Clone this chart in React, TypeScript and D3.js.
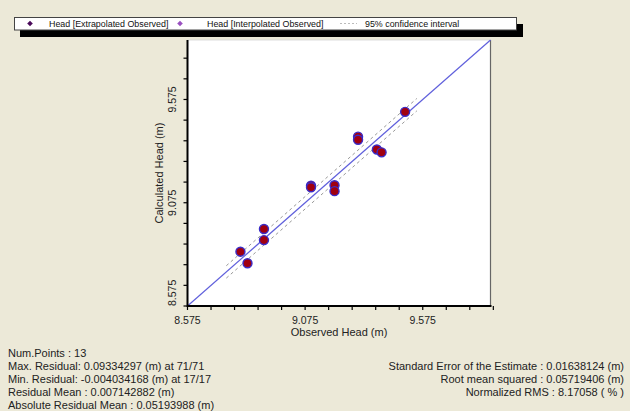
import React from "react";
import * as d3 from "d3";

const observed = [8.8, 8.83, 8.9, 8.9, 9.1, 9.1, 9.2, 9.2, 9.3, 9.3, 9.38, 9.4, 9.5];
const calculated = [8.838, 8.782, 8.948, 8.894, 9.158, 9.15, 9.16, 9.131, 9.395, 9.38, 9.333, 9.319, 9.515];
const axisMin = 8.575;
const axisMax = 9.863;
const tickStep = 0.1;
const labeledTicks = [8.575, 9.075, 9.575];
const ciRange = [8.74, 9.55];
const ciHalfWidth = 0.03;
const legendItems = ["Head [Extrapolated Observed]", "Head [Interpolated Observed]", "95% confidence interval"];
const statsLeft = [
  "Num.Points : 13",
  "Max. Residual: 0.09334297 (m) at 71/71",
  "Min. Residual: -0.004034168 (m) at 17/17",
  "Residual Mean : 0.007142882 (m)",
  "Absolute Residual Mean : 0.05193988 (m)",
];
const statsRight = [
  "Standard Error of the Estimate : 0.01638124 (m)",
  "Root mean squared : 0.05719406 (m)",
  "Normalized RMS : 8.17058 ( % )",
];

const W = 630;
const H = 411;
const L = 187.5, R = 490.5, T = 40, B = 306;
const FONT = "Arial, 'Liberation Sans', sans-serif";

export default function App() {
  const x = d3.scaleLinear().domain([axisMin, axisMax]).range([L, R]);
  const y = d3.scaleLinear().domain([axisMin, axisMax]).range([B, T]);
  const xTicks = d3.range(0, 14).map((i) => axisMin + i * tickStep);
  const yTicks = d3.range(0, 13).map((i) => axisMin + i * tickStep);
  const line = d3.line<[number, number]>().x((d) => x(d[0])).y((d) => y(d[1]));
  const upper = line(ciRange.map((v) => [v, v + ciHalfWidth] as [number, number]));
  const lower = line(ciRange.map((v) => [v, v - ciHalfWidth] as [number, number]));
  const diag = line([[axisMin, axisMin], [axisMax, axisMax]]);
  const isLabeled = (v: number) => labeledTicks.some((l) => Math.abs(l - v) < 1e-6);

  const diamond = (cx: number, cy: number, s: number) =>
    `M${cx},${cy - s}L${cx + s},${cy}L${cx},${cy + s}L${cx - s},${cy}Z`;

  return (
    <div style={{ position: "absolute", left: 0, top: 0 }}>
      <svg width={W} height={H} style={{ display: "block", fontFamily: FONT }}>
        <rect x={0} y={0} width={W} height={H} fill="#ECE9D8" />
        {/* legend */}
        <rect x={20} y={24} width={503} height={13} fill="#000" />
        <rect x={14.5} y={17.5} width={502} height={12.5} fill="#fff" stroke="#444" strokeWidth={1} />
        <path d={diamond(30, 23.5, 2.8)} fill="#4a0a5a" />
        <text x={49} y={27} fontSize={8.9} fill="#111">{legendItems[0]}</text>
        <path d={diamond(180, 23.5, 2.8)} fill="#9a50c0" />
        <text x={207} y={27} fontSize={8.9} fill="#111">{legendItems[1]}</text>
        <line x1={340} x2={357} y1={23.5} y2={23.5} stroke="#bbb" strokeDasharray="2,2" />
        <text x={365} y={27} fontSize={8.9} fill="#111">{legendItems[2]}</text>

        {/* plot area */}
        <rect x={L} y={T} width={R - L} height={B - T} fill="#fff" />
        <line x1={L} x2={R} y1={T} y2={T} stroke="#ddd" strokeWidth={1} />
        <line x1={R} x2={R} y1={T} y2={B} stroke="#666" strokeWidth={1.2} />
        <path d={upper ?? ""} fill="none" stroke="#999" strokeWidth={1} strokeDasharray="3,3" />
        <path d={lower ?? ""} fill="none" stroke="#999" strokeWidth={1} strokeDasharray="3,3" />
        <path d={diag ?? ""} fill="none" stroke="#6060dc" strokeWidth={1.2} />
        {observed.map((o, i) => (
          <circle key={i} cx={x(o)} cy={y(calculated[i])} r={4.5} fill="#a00010" stroke="#3a2cc8" strokeWidth={1.4} />
        ))}

        {/* axes */}
        <line x1={L} x2={R + 1} y1={B} y2={B} stroke="#000" strokeWidth={2} />
        <line x1={L} x2={L} y1={T} y2={B + 1} stroke="#000" strokeWidth={2} />
        {xTicks.map((v, i) => (
          <line key={i} x1={x(v)} x2={x(v)} y1={B} y2={B + 4} stroke="#000" strokeWidth={1.2} />
        ))}
        {yTicks.map((v, i) => (
          <line key={i} x1={L - 4} x2={L} y1={y(v)} y2={y(v)} stroke="#000" strokeWidth={1.2} />
        ))}
        {xTicks.filter(isLabeled).map((v, i) => (
          <text key={i} x={x(v)} y={323.5} fontSize={10.5} textAnchor="middle" fill="#222">
            {v.toFixed(3)}
          </text>
        ))}
        {yTicks.filter(isLabeled).map((v, i) => {
          const first = Math.abs(v - axisMin) < 1e-6;
          return (
            <text
              key={i}
              transform={`translate(176,${first ? B : y(v)}) rotate(-90)`}
              fontSize={10.5}
              textAnchor={first ? "start" : "middle"}
              fill="#222"
            >
              {v.toFixed(3)}
            </text>
          );
        })}
        <text x={(L + R) / 2} y={336} fontSize={11} textAnchor="middle" fill="#222">Observed Head (m)</text>
        <text transform={`translate(163,${(T + B) / 2}) rotate(-90)`} fontSize={11} textAnchor="middle" fill="#222">
          Calculated Head (m)
        </text>

        {/* stats */}
        {statsLeft.map((s, i) => (
          <text key={i} x={8} y={356.5 + i * 13} fontSize={11} fill="#222">{s}</text>
        ))}
        {statsRight.map((s, i) => (
          <text key={i} x={624} y={369.5 + i * 13} fontSize={11} textAnchor="end" fill="#222">{s}</text>
        ))}
      </svg>
    </div>
  );
}
